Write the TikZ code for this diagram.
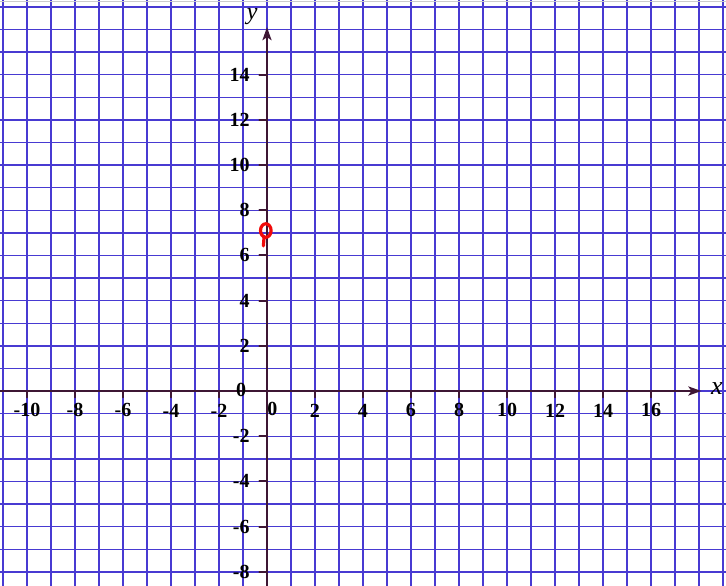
\documentclass[tikz,border=0pt]{standalone}
\usepackage{fontspec}
\setmainfont{Liberation Serif}
\usepackage{pgf,tikz}
\usetikzlibrary{arrows,arrows.meta}
\definecolor{gridblue}{RGB}{72,58,210}
\definecolor{axisdark}{RGB}{62,22,52}
\definecolor{markred}{RGB}{240,10,10}

\begin{document}
\begin{tikzpicture}[line cap=round,line join=round,>={Stealth[length=13pt,width=9pt,inset=3pt]},x=24pt,y=22.6pt,
  lbl/.style={font=\fontsize{20}{20}\selectfont\bfseries,inner sep=0pt}]
\useasboundingbox (-11.125,-8.628) rectangle (19.125,17.301);
\clip(-11.125,-8.628) rectangle (19.125,17.301);
\fill[white] (-11.125,-8.628) rectangle (19.125,17.301);
% grid
\foreach \x in {-11,...,19}
  \draw [color=gridblue,line width=1.4pt,line cap=butt] (\x,-8.628) -- (\x,17.301);
\foreach \y in {-8,...,17}
  \draw [color=gridblue,line width=1.4pt,line cap=butt] (-11.125,\y) -- (19.125,\y);
\draw [color=gray!40,line width=0.8pt] (-11.125,17.22) -- (19.125,17.22);
% axes
\draw [->,color=axisdark,line width=2.4pt] (-11.125,0.) -- (18.1,0.);
\draw [->,color=axisdark,line width=2.4pt] (0.,-8.628) -- (0.,16.1);
\node (xlab) at (18.75,0.12) {\fontsize{26}{26}\selectfont\itshape x};
\node (ylab) at (-0.62,16.55) {\fontsize{24}{24}\selectfont\itshape y};
% ticks
\foreach \x in {-10,-8,-6,-4,-2,2,4,6,8,10,12,14,16}
  \draw [color=axisdark,line width=2pt] (\x,0.) -- (\x,-0.28);
\foreach \y in {-8,-6,-4,-2,2,4,6,8,10,12,14}
  \draw [color=axisdark,line width=2pt] (0.,\y) -- (-0.32,\y);
% tick labels
\foreach \x in {-10,-8,-6,-4,-2,2,4,6,8,10,12,14,16}
  \node[lbl] at (\x,-0.86) {\x};
\foreach \y in {-8,-6,-4,-2,2,4,6,8,10,12,14}
  \node[lbl,anchor=east] at (-0.72,\y) {\y};
\node[lbl] (origa) at (-1.08,0.05) {0};
\node[lbl] (origb) at (0.22,-0.78) {0};
% point
\draw [color=markred,line width=3.2pt] (-0.05,7.1) ellipse (0.22 and 0.3);
\draw [color=markred,line width=3.2pt] (-0.12,6.84) -- (-0.15,6.42);
\end{tikzpicture}
\end{document}
